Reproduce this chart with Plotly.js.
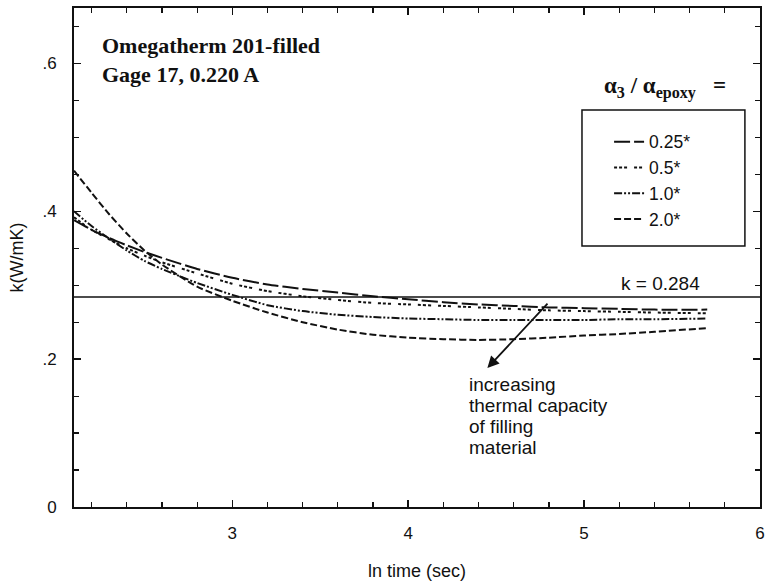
<!DOCTYPE html>
<html>
<head>
<meta charset="utf-8">
<script src="https://cdn.plot.ly/plotly-3.0.1.min.js"></script>
<style>html,body{margin:0;padding:0;background:#fff;}#chart{width:766px;height:584px;}</style>
</head>
<body>
<div id="chart"></div>
<script>
// ln time (sec)
const lnTime = [2.1, 2.2, 2.3, 2.4, 2.5, 2.6, 2.8, 3.0, 3.2, 3.4, 3.6, 3.8, 4.0, 4.2, 4.4, 4.6, 4.8, 5.0, 5.2, 5.4, 5.7];
// k (W/mK) for alpha3/alpha_epoxy ratios
const k025 = [0.388, 0.375, 0.364, 0.354, 0.345, 0.337, 0.322, 0.310, 0.301, 0.295, 0.290, 0.285, 0.281, 0.277, 0.274, 0.272, 0.270, 0.269, 0.268, 0.267, 0.267];
const k05  = [0.392, 0.375, 0.362, 0.350, 0.340, 0.331, 0.316, 0.302, 0.292, 0.285, 0.280, 0.276, 0.274, 0.272, 0.270, 0.268, 0.266, 0.265, 0.264, 0.263, 0.262];
const k10  = [0.400, 0.380, 0.363, 0.347, 0.333, 0.322, 0.303, 0.287, 0.273, 0.265, 0.260, 0.257, 0.255, 0.254, 0.253, 0.253, 0.253, 0.253, 0.254, 0.254, 0.255];
const k20  = [0.455, 0.425, 0.396, 0.370, 0.347, 0.328, 0.298, 0.279, 0.263, 0.250, 0.240, 0.233, 0.229, 0.227, 0.226, 0.227, 0.229, 0.232, 0.234, 0.237, 0.242];
const seriesNames = ['0.25*', '0.5*', '1.0*', '2.0*'];
const kRef = 0.284;
const refX = [2.1, 6];
const yTickVals = [0, 0.2, 0.4, 0.6];
const yTickText = ['0', '.2', '.4', '.6'];
const xTickVals = [3, 4, 5, 6];
const noteLines = ['increasing', 'thermal capacity', 'of filling', 'material'];

const dashes = ['16px,4px', '3px,2px,3px,2px,3px,7px', '8px,2px,2px,2px,2px,2px', '7px,3px'];
const ys = [k025, k05, k10, k20];

const traces = ys.map((y, i) => ({
  x: lnTime, y: y, type: 'scatter', mode: 'lines', name: seriesNames[i],
  legendgroup: 'g' + i,
  line: {color: '#111', width: 2, dash: dashes[i], shape: 'spline', smoothing: 0.6}
}));
traces.push({
  x: refX, y: [kRef, kRef], type: 'scatter', mode: 'lines', showlegend: false,
  line: {color: '#111', width: 1.6}
});

const sans = 'Liberation Sans, Arial, sans-serif';
const serif = 'Liberation Serif, Times New Roman, serif';
const tickFont = {family: sans, size: 17, color: '#111'};
const titleFont = {family: sans, size: 18, color: '#111'};

const annotations = [
  {xref: 'paper', yref: 'paper', x: 0.038, y: 0.953, xanchor: 'left', yanchor: 'top', align: 'left',
   showarrow: false, text: '<b>Omegatherm 201-filled<br>Gage 17, 0.220 A</b>',
   font: {family: serif, size: 22, color: '#111'}},
  {xref: 'paper', yref: 'paper', x: 0.77, y: 0.84, xanchor: 'left', yanchor: 'middle',
   showarrow: false, text: '<b>α<sub>3</sub> / α<sub>epoxy</sub>   =</b>',
   font: {family: serif, size: 23, color: '#111'}},
  {xref: 'paper', yref: 'y', x: 0.855, y: kRef, xanchor: 'center', yanchor: 'bottom', yshift: 1,
   showarrow: false, text: 'k = 0.284', font: {family: sans, size: 19, color: '#111'}},
  {xref: 'x', yref: 'y', x: 4.45, y: 0.188, axref: 'x', ayref: 'y', ax: 4.80, ay: 0.277,
   showarrow: true, arrowhead: 2, arrowsize: 1.3, arrowwidth: 1.8, arrowcolor: '#111', text: ''}
];
noteLines.forEach((t, i) => {
  annotations.push({xref: 'paper', yref: 'paper', x: 0.573, y: (507 - (384 + 21 * i)) / 499,
    xanchor: 'left', yanchor: 'middle', align: 'left', showarrow: false, text: t,
    font: {family: sans, size: 19, color: '#111'}});
});

const layout = {
  width: 766, height: 584,
  margin: {l: 74, r: 6, t: 8, b: 77},
  paper_bgcolor: '#fff', plot_bgcolor: '#fff',
  showlegend: true,
  legend: {
    x: 0.78, y: 0.768, xanchor: 'left', yanchor: 'top',
    bgcolor: 'rgba(0,0,0,0)', borderwidth: 0,
    font: {family: sans, size: 17.5, color: '#111'},
    traceorder: 'grouped', tracegroupgap: 0
  },
  xaxis: {
    range: [2.1, 6], tickvals: xTickVals, ticks: 'inside', ticklen: 7, tickwidth: 1.5,
    tickcolor: '#111', showline: true, linecolor: '#111', linewidth: 2, mirror: 'ticks',
    showgrid: false, zeroline: false, tickfont: tickFont, ticklabelstandoff: 10,
    minor: {dtick: 0.2, tick0: 0, ticks: 'inside', ticklen: 5, tickwidth: 1.2, tickcolor: '#111', showgrid: false},
    title: {text: 'ln time (sec)', font: titleFont, standoff: 22}
  },
  yaxis: {
    range: [0, 0.675], tickvals: yTickVals, ticktext: yTickText, ticks: 'inside', ticklen: 7, tickwidth: 1.5,
    tickcolor: '#111', showline: true, linecolor: '#111', linewidth: 2, mirror: 'ticks',
    showgrid: false, zeroline: false, tickfont: tickFont, ticklabelstandoff: 12,
    minor: {dtick: 0.05, tick0: 0, ticks: 'inside', ticklen: 5, tickwidth: 1.2, tickcolor: '#111', showgrid: false},
    title: {text: 'k(W/mK)', font: titleFont, standoff: 14}
  },
  shapes: [
    {type: 'rect', xref: 'paper', yref: 'paper', x0: 0.7405, x1: 0.978, y0: 0.523, y1: 0.7956,
     line: {color: '#111', width: 1.5}, fillcolor: 'rgba(0,0,0,0)'}
  ],
  annotations: annotations
};

Plotly.newPlot('chart', traces, layout, {displayModeBar: false, staticPlot: true});
</script>
</body>
</html>
